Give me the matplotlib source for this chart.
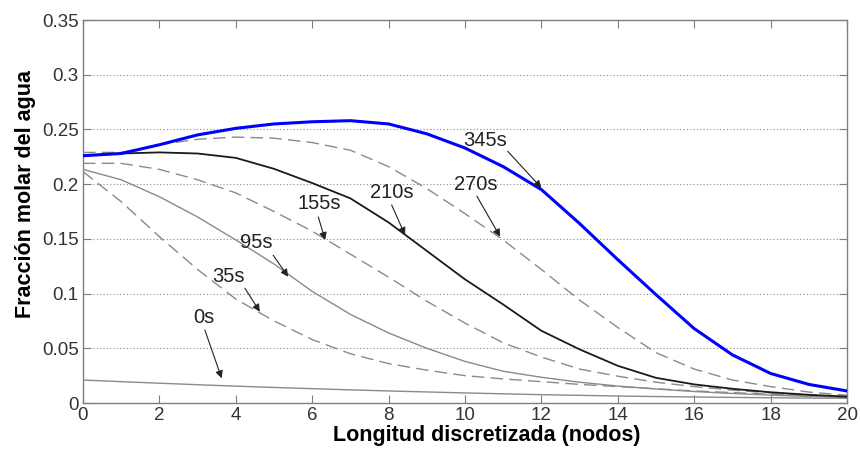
"""Perfiles de fracción molar del agua a lo largo del lecho (estilo MATLAB)."""
import matplotlib

matplotlib.use("Agg")
import matplotlib.pyplot as plt
import numpy as np

plt.rcParams.update({
    "font.family": ["Liberation Sans", "DejaVu Sans"],
    "font.size": 13,
})

# datos
nodos = np.arange(0, 21)
t0 = [0.021, 0.0195, 0.0181, 0.0167, 0.0154, 0.0142, 0.0131, 0.0120, 0.0110, 0.0101, 0.0092,
      0.0084, 0.0076, 0.0070, 0.0064, 0.0059, 0.0055, 0.0051, 0.0048, 0.0045, 0.0043]
t35 = [0.2114, 0.184, 0.152, 0.122, 0.095, 0.075, 0.058, 0.045, 0.036, 0.030, 0.025,
       0.022, 0.0195, 0.017, 0.015, 0.013, 0.011, 0.0095, 0.008, 0.0068, 0.0058]
t95 = [0.2135, 0.204, 0.1885, 0.170, 0.149, 0.127, 0.102, 0.081, 0.064, 0.050, 0.038,
       0.029, 0.0235, 0.019, 0.0155, 0.0128, 0.0105, 0.0087, 0.0072, 0.006, 0.005]
t155 = [0.219, 0.219, 0.2135, 0.204, 0.192, 0.175, 0.157, 0.136, 0.115, 0.093, 0.073,
        0.055, 0.042, 0.031, 0.0245, 0.019, 0.015, 0.0118, 0.0092, 0.0072, 0.0058]
t210 = [0.226, 0.228, 0.229, 0.228, 0.224, 0.214, 0.201, 0.187, 0.165, 0.139, 0.113,
        0.090, 0.066, 0.049, 0.034, 0.023, 0.017, 0.013, 0.0098, 0.0075, 0.0058]
t270 = [0.229, 0.229, 0.236, 0.241, 0.243, 0.242, 0.238, 0.231, 0.216, 0.196, 0.173,
        0.149, 0.122, 0.094, 0.069, 0.046, 0.031, 0.021, 0.015, 0.010, 0.007]
t345 = [0.226, 0.228, 0.236, 0.245, 0.251, 0.255, 0.257, 0.258, 0.255, 0.246, 0.233,
        0.216, 0.195, 0.164, 0.131, 0.099, 0.068, 0.044, 0.027, 0.017, 0.011]

xticks = np.arange(0, 21, 2)
yticks = [0, 0.05, 0.1, 0.15, 0.2, 0.25, 0.3, 0.35]
ytick_labels = ["0", "0.05", "0.1", "0.15", "0.2", "0.25", "0.3", "0.35"]

GRAY = "#8a8a8a"
DASH = (0, (9, 4.5))

fig = plt.figure(figsize=(8.6, 4.51), dpi=100)
fig.patch.set_facecolor("white")
ax = fig.add_axes([83 / 860, 48 / 451, 764 / 860, 383 / 451])

ax.plot(nodos, t0, color=GRAY, lw=1.0, zorder=3)
ax.plot(nodos, t35, color=GRAY, lw=1.0, linestyle=DASH, zorder=3)
ax.plot(nodos, t95, color=GRAY, lw=1.0, zorder=3)
ax.plot(nodos, t155, color=GRAY, lw=1.0, linestyle=DASH, zorder=3)
ax.plot(nodos, t210, color="#1a1a1a", lw=1.3, zorder=4)
ax.plot(nodos, t270, color=GRAY, lw=1.0, linestyle=DASH, zorder=3)
ax.plot(nodos, t345, color="#0000ff", lw=2.2, zorder=5)

# etiquetas con flecha: (texto, pos. texto, cola, punta)
notas = [
    ("0s", (3.17, 0.0781), (3.19, 0.0667), (3.63, 0.0226)),
    ("35s", (3.80, 0.1156), (4.24, 0.1048), (4.63, 0.0834)),
    ("95s", (4.53, 0.1467), (4.98, 0.1350), (5.37, 0.1154)),
    ("155s", (6.18, 0.1823), (6.16, 0.1700), (6.34, 0.1490)),
    ("210s", (8.08, 0.1924), (8.08, 0.1810), (8.43, 0.1535)),
    ("270s", (10.29, 0.1997), (10.31, 0.1890), (10.92, 0.1520)),
    ("345s", (10.52, 0.2400), (11.12, 0.2300), (12.00, 0.1965)),
]
for txt, pos, cola, punta in notas:
    ax.text(pos[0], pos[1], txt, ha="center", va="center", fontsize=14.5,
            color="#222222", zorder=6)
    ax.annotate("", xy=punta, xytext=cola, zorder=6,
                arrowprops=dict(arrowstyle="-|>", color="#222222", lw=0.8,
                                mutation_scale=11, shrinkA=0, shrinkB=0))

ax.set_xlim(0, 20)
ax.set_ylim(0, 0.35)
ax.set_xticks(xticks)
ax.set_yticks(yticks)
ax.set_yticklabels(ytick_labels)
ax.tick_params(direction="in", length=6, width=0.8, color="#7f7f7f",
               labelcolor="#333333", labelsize=13.5, top=True, right=True)
ax.tick_params(axis="x", pad=3)
ax.tick_params(axis="y", pad=3)
for sp in ax.spines.values():
    sp.set_color("#7f7f7f")
    sp.set_linewidth(1.0)

ax.yaxis.grid(True, linestyle=(0, (1, 2)), color="#8a8a8a", lw=0.8)
ax.set_axisbelow(True)

ax.set_xlabel("Longitud discretizada (nodos)", fontsize=15.5, fontweight="bold",
              color="black", va="top")
ax.xaxis.set_label_coords(0.528, -0.058)
ax.set_ylabel("Fracción molar del agua", fontsize=15.5, fontweight="bold",
              color="black", va="center")
ax.yaxis.set_label_coords(-0.075, 0.546)

fig.savefig("out.png", dpi=100, facecolor="white")
plt.close(fig)
